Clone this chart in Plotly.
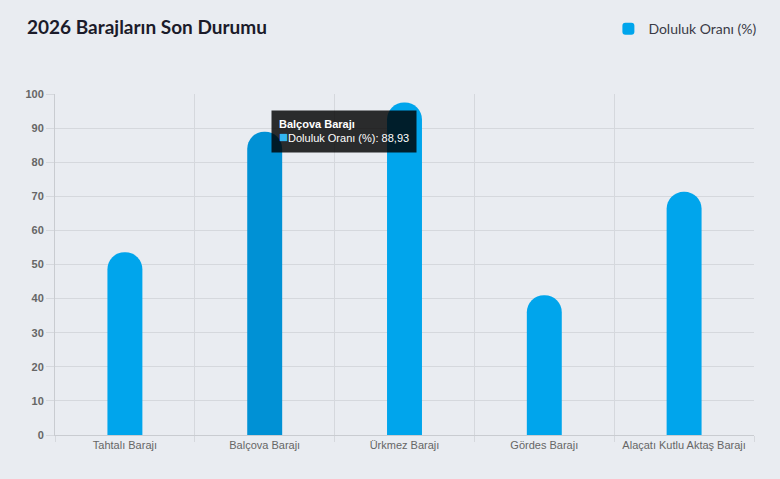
import plotly.graph_objects as go

categories = ["Tahtalı Barajı", "Balçova Barajı", "Ürkmez Barajı", "Gördes Barajı", "Alaçatı Kutlu Aktaş Barajı"]
values = [53.6, 88.93, 97.5, 41.0, 71.3]
series_name = "Doluluk Oranı (%)"
y_ticks = list(range(0, 101, 10))
highlight = "Balçova Barajı"

base_color = "#00A5EC"
hover_color = "#0091D5"
bar_colors = [hover_color if c == highlight else base_color for c in categories]

fig = go.Figure()
fig.add_trace(go.Bar(
    x=categories, y=values, name=series_name,
    marker=dict(color=bar_colors, cornerradius="50%", line=dict(width=0)),
    hoverinfo="none", showlegend=True,
))

hv = values[categories.index(highlight)]
fig.add_annotation(
    x=highlight, y=hv, xref="x", yref="y",
    xanchor="left", yanchor="middle", xshift=6, yshift=0,
    showarrow=False, align="left",
    text=("<b>" + highlight + "</b><br>"
          "<span style='color:#33B5F0;font-size:15px'>■</span>" + series_name + ": "
          + f"{hv:.2f}".replace(".", ",")),
    font=dict(family="Liberation Sans, Arial", size=11, color="white"),
    bgcolor="rgba(0,0,0,0.82)", borderpad=7, bordercolor="rgba(0,0,0,0)",
)

grid = "#D5D8DD"
fig.update_layout(
    width=780, height=479,
    paper_bgcolor="#E9ECF1", plot_bgcolor="#E9ECF1",
    margin=dict(l=55, r=26, t=94, b=44),
    bargap=0.75,
    title=dict(text="<b>2026 Barajların Son Durumu</b>", x=27/780, xanchor="left",
               y=1 - 27/479, yanchor="middle",
               font=dict(family="Lato, sans-serif", size=19, color="#1B1B2A")),
    legend=dict(orientation="h", x=1.012, xanchor="right", y=1.19, yanchor="middle",
                font=dict(family="Lato, sans-serif", size=14, color="#3A3A46"),
                bgcolor="rgba(0,0,0,0)", itemsizing="constant"),
    font=dict(family="Liberation Sans, Arial", color="#666666"),
    xaxis=dict(showgrid=True, gridcolor=grid, tickson="boundaries", ticks="outside",
               ticklen=6, tickcolor=grid, showline=True, linecolor="#C9CCD1",
               tickfont=dict(size=11, color="#666666"), fixedrange=True),
    yaxis=dict(range=[0, 100], tickvals=y_ticks, showgrid=True, gridcolor=grid,
               ticks="outside", ticklen=8, tickcolor=grid, showline=True,
               linecolor="#C9CCD1", zeroline=False,
               tickfont=dict(size=11, color="#666666", weight="bold"), fixedrange=True),
)

fig.write_html("out.html")
